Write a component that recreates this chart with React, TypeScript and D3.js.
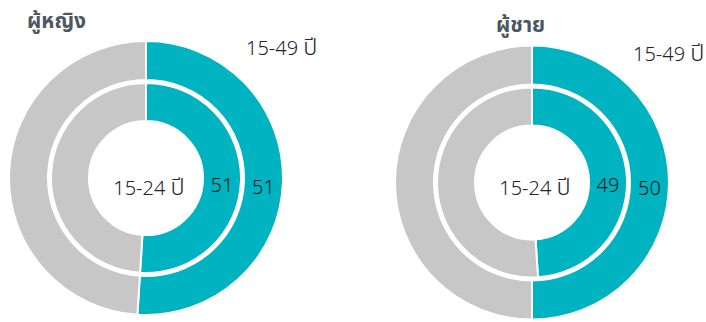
import React from "react";
import * as d3 from "d3";

const panels = ["ผู้หญิง", "ผู้ชาย"];
const outerLabel = "15-49 ปี";
const innerLabel = "15-24 ปี";
const outerValues = [51, 50];
const innerValues = [51, 49];

const W = 706;
const H = 322;
const TEAL = "#00B3C0";
const GRAY = "#C8C7C8";
const FONT = "'Noto Sans', 'Noto Sans Thai', Tahoma, 'DejaVu Sans', sans-serif";

const layout = [
  { cx: 146, cy: 178, titleX: 27, titleY: 28, outerLX: 246, outerLY: 55, centerY: 195 },
  { cx: 532, cy: 182.5, titleX: 496, titleY: 32, outerLX: 633, outerLY: 61, centerY: 195 },
];

const rings = { outer: [98, 137], inner: [57, 95] };

// render Thai runs a bit larger to match the reference's Thai glyph size
function mixed(s: string, base: number) {
  const parts = s.match(/[\u0E00-\u0E7F]+|[^\u0E00-\u0E7F]+/g) || [];
  return parts.map((p, k) =>
    /[\u0E00-\u0E7F]/.test(p) ? (
      <tspan key={k} fontSize={base * 1.18} fontWeight={300}>{p}</tspan>
    ) : (
      <tspan key={k}>{p}</tspan>
    )
  );
}

function Donut({ idx }: { idx: number }) {
  const L = layout[idx];
  const pie = d3.pie<number>().sort(null).value((d) => d);
  const mk = (v: number, r: number[]) => {
    const arcs = pie([v, 100 - v]);
    const arc = d3.arc<d3.PieArcDatum<number>>().innerRadius(r[0]).outerRadius(r[1]);
    return { arcs, arc };
  };
  const o = mk(outerValues[idx], rings.outer);
  const i = mk(innerValues[idx], rings.inner);
  const lo = o.arc.centroid(o.arcs[0]);
  const li = i.arc.centroid(i.arcs[0]);
  return (
    <g>
      <text x={L.titleX} y={L.titleY} fontSize={21} fontWeight="bold" fill="#4B5862" fontFamily={FONT}>
        {panels[idx]}
      </text>
      <text x={L.outerLX} y={L.outerLY} fontSize={20} fontWeight={300} fill="#262626" fontFamily={FONT}>
        {mixed(outerLabel, 20)}
      </text>
      <g transform={`translate(${L.cx},${L.cy})`}>
        {o.arcs.map((a, k) => (
          <path key={"o" + k} d={o.arc(a) || ""} fill={k === 0 ? TEAL : GRAY} stroke="#fff" strokeWidth={2} />
        ))}
        {i.arcs.map((a, k) => (
          <path key={"i" + k} d={i.arc(a) || ""} fill={k === 0 ? TEAL : GRAY} stroke="#fff" strokeWidth={2} />
        ))}
        <text x={li[0]} y={li[1] + 4} fontSize={20} fontWeight={300} fill="#1a1a1a" textAnchor="middle" dominantBaseline="central" fontFamily={FONT}>
          {innerValues[idx]}
        </text>
        <text x={lo[0]} y={lo[1] + 5} fontSize={20} fontWeight={300} fill="#1a1a1a" textAnchor="middle" dominantBaseline="central" fontFamily={FONT}>
          {outerValues[idx]}
        </text>
      </g>
      <text x={L.cx + 3} y={L.centerY} fontSize={20} fontWeight={300} fill="#262626" textAnchor="middle" fontFamily={FONT}>
        {mixed(innerLabel, 20)}
      </text>
    </g>
  );
}

export default function App() {
  return (
    <svg width={W} height={H} style={{ position: "absolute", left: 0, top: 0, background: "#fff" }}>
      <Donut idx={0} />
      <Donut idx={1} />
    </svg>
  );
}
